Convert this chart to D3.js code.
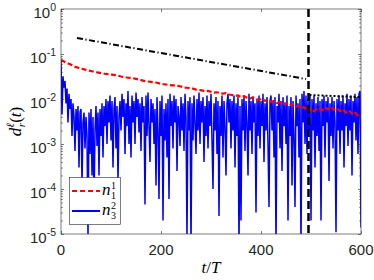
<!DOCTYPE html>
<html>
<head>
<meta charset="utf-8">
<script src="https://cdn.jsdelivr.net/npm/d3@7"></script>
<style>
  body { margin: 0; background: #fff; }
  svg { display: block; }
</style>
</head>
<body>
<div id="chart"></div>
<script>
// t/T axis ticks and log y ticks
const xTicks = [0, 200, 400, 600];
const yExponents = [0, -1, -2, -3, -4, -5];

// n_1^1 (red dashed), sampled every 6 periods
const redStep = 6;
const redValues = [
    0.074, 0.068, 0.063, 0.059, 0.055, 0.051, 0.049, 0.047, 0.045, 0.043,
    0.042, 0.040, 0.039, 0.038, 0.037, 0.036, 0.0355, 0.0347, 0.034, 0.033,
    0.0316, 0.031, 0.030, 0.0295, 0.029, 0.028, 0.027, 0.026, 0.025, 0.0245,
    0.024, 0.0234, 0.023, 0.022, 0.0214, 0.021, 0.0204, 0.020, 0.020, 0.0195,
    0.019, 0.018, 0.0178, 0.0174, 0.017, 0.0162, 0.0158, 0.0155, 0.0148, 0.0151,
    0.0145, 0.0138, 0.0141, 0.0135, 0.0132, 0.0135, 0.0126, 0.0123, 0.0117, 0.012,
    0.011, 0.0115, 0.0107, 0.0102, 0.011, 0.010, 0.0095, 0.0102, 0.0091, 0.0095,
    0.0087, 0.0091, 0.0081, 0.0085, 0.0078, 0.0081, 0.0072, 0.0076, 0.0066, 0.0071,
    0.0062, 0.0066, 0.0055, 0.006, 0.0051, 0.0058, 0.0063, 0.0056, 0.0065, 0.0059,
    0.0066, 0.0058, 0.0062, 0.0054, 0.0059, 0.005, 0.0055, 0.0047, 0.0051, 0.0042,
    0.0038
];

// n_3^2 (blue solid), sampled every 2 periods
const blueStep = 2;
const blueValues = [
    7e-2, 4.5e-3, 3.2e-2, 1.8e-2, 2.5e-2, 8e-3, 1.7e-2, 3e-3, 1.3e-2, 6e-3,
    1e-2, 1.5e-3, 8e-3, 4e-3, 7e-4, 6e-3, 2e-3, 7e-3, 3e-4, 5e-3,
    6e-3, 1.2e-4, 3e-3, 5e-3, 8e-4, 4e-3, 1.5e-3, 8e-6, 5e-3, 6e-4,
    6e-3, 2e-4, 4e-3, 5e-5, 2e-3, 7e-3, 9e-4, 5e-3, 2e-4, 6e-3,
    1.5e-3, 8e-3, 5e-4, 7e-3, 2.5e-3, 1e-2, 1e-3, 9e-3, 3e-3, 1.2e-2,
    1.2e-3, 9e-3, 3e-4, 6e-3, 1.1e-2, 8e-4, 7e-3, 1.5e-4, 4e-3, 9e-3,
    2e-3, 1.3e-2, 4e-3, 1e-2, 6e-4, 8e-3, 2.5e-3, 1.5e-2, 1e-3, 7e-3,
    5e-4, 1.2e-2, 3e-3, 9e-3, 1e-3, 1.4e-2, 4e-3, 1e-2, 1.8e-3, 8e-3,
    7e-4, 1.1e-2, 3e-3, 7e-3, 4.5e-5, 1.2e-2, 1.5e-3, 1.4e-2, 2.5e-3, 4e-4,
    1e-2, 3e-3, 8e-3, 1e-3, 6e-3, 1.2e-4, 1.1e-2, 2e-3, 6e-5, 9e-3,
    1.5e-3, 1.2e-2, 2e-5, 6e-3, 1.2e-3, 8e-3, 5e-4, 1e-2, 6e-5, 1.3e-2,
    2.5e-3, 9e-3, 8e-4, 1.2e-2, 3e-3, 1e-2, 2.5e-4, 7e-3, 4e-3, 9e-4,
    1.1e-2, 2e-3, 8e-3, 7e-4, 1.3e-2, 4e-3, 8e-6, 9e-3, 2e-3, 1.1e-2,
    5e-6, 8e-3, 1.2e-3, 1.2e-2, 3e-3, 6e-4, 1e-2, 2e-3, 1.4e-2, 1e-3,
    9e-3, 3e-3, 1.1e-2, 4e-4, 7e-3, 1.5e-3, 1.2e-2, 8e-4, 9e-3, 2.5e-3,
    1.3e-2, 1.2e-3, 1e-4, 8e-3, 2e-3, 1.1e-2, 6e-4, 9e-3, 2.5e-5, 7e-3,
    1.5e-3, 1.2e-2, 5e-4, 9e-3, 2.5e-3, 2e-4, 8e-3, 1.3e-2, 3e-3, 1e-2,
    8e-4, 9e-3, 2e-3, 1.2e-2, 3e-4, 8e-3, 1.5e-3, 1.1e-2, 5e-6, 7e-3,
    2e-5, 1e-2, 2e-3, 1.2e-2, 7e-4, 9e-3, 3e-3, 2e-4, 1.3e-2, 2e-3,
    9e-3, 6e-4, 1.1e-2, 3e-3, 8e-3, 3e-5, 1e-2, 1.5e-3, 1.2e-2, 8e-4,
    9e-3, 2.5e-3, 1.3e-2, 4e-4, 8e-3, 2e-3, 1.1e-2, 1e-3, 4e-5, 9e-3,
    1.2e-2, 2e-3, 9e-3, 5e-4, 1.1e-2, 5e-6, 7e-3, 3e-3, 1.3e-2, 8e-4,
    9e-3, 2.5e-4, 1.1e-2, 2.5e-3, 8e-3, 1e-3, 1.2e-2, 2e-5, 7e-3, 1.5e-3,
    1.1e-2, 1.2e-4, 9e-3, 1.5e-3, 4e-5, 1.2e-2, 2.5e-3, 8e-3, 5e-4, 1e-2,
    5e-6, 1.3e-2, 3e-3, 1.5e-2, 1e-3, 1.2e-2, 6e-4, 1e-2, 2e-3, 1.3e-2,
    2e-5, 1e-2, 2e-3, 1.2e-2, 3e-4, 8e-3, 1.5e-3, 1.1e-2, 7e-4, 9e-3,
    2e-5, 1e-2, 2.5e-3, 1.2e-2, 5e-4, 9e-3, 3e-3, 1.1e-2, 1.5e-4, 8e-3,
    1.5e-3, 1.1e-2, 8e-4, 9e-3, 3e-3, 1.1e-5, 1e-2, 2e-3, 1.2e-2, 6e-4,
    9e-3, 2e-3, 1.2e-2, 3e-4, 8e-3, 2.5e-3, 1.3e-2, 9e-4, 1e-2, 2e-3,
    1.2e-2, 2e-4, 9e-3, 3e-3, 1.3e-2, 1.2e-3, 1.1e-2, 6e-4, 1.3e-2, 1.5e-2,
    1.4e-5
];

// black guide lines: [t, value]
const dashDotLine = [[32, 0.227], [490, 0.0278]];
const dottedLine = [[497, 0.0123], [598, 0.011]];
const verticalLineT = 495;

const width = 374, height = 280;
const margin = { top: 9, right: 13, bottom: 46, left: 61 };
const axisColor = "#262626";

const svg = d3.select("#chart").append("svg")
    .attr("width", width)
    .attr("height", height);

const x = d3.scaleLinear().domain([0, 600]).range([margin.left, width - margin.right]);
const y = d3.scaleLog().domain([1e-5, 1]).range([height - margin.bottom, margin.top]);

svg.append("clipPath").attr("id", "plotClip")
    .append("rect")
    .attr("x", margin.left).attr("y", margin.top)
    .attr("width", x.range()[1] - margin.left)
    .attr("height", y.range()[0] - margin.top);

const plot = svg.append("g").attr("clip-path", "url(#plotClip)");

const line = d3.line().x(d => x(d[0])).y(d => y(d[1]));

const blueData = blueValues.map((v, i) => [i * blueStep, v]);
const redData = redValues.map((v, i) => [i * redStep, v]);

plot.append("path")
    .datum(blueData)
    .attr("d", line)
    .attr("fill", "none")
    .attr("stroke", "#0000ff")
    .attr("stroke-width", 1.5);

plot.append("path")
    .datum(redData)
    .attr("d", line)
    .attr("fill", "none")
    .attr("stroke", "#ff0000")
    .attr("stroke-width", 2.2)
    .attr("stroke-dasharray", "5,2.5");

plot.append("path")
    .datum(dashDotLine)
    .attr("d", line)
    .attr("fill", "none")
    .attr("stroke", "#000")
    .attr("stroke-width", 2)
    .attr("stroke-dasharray", "6,2.5,1.2,2.5");

plot.append("path")
    .datum(dottedLine)
    .attr("d", line)
    .attr("fill", "none")
    .attr("stroke", "#000")
    .attr("stroke-width", 2)
    .attr("stroke-dasharray", "2,2");

plot.append("line")
    .attr("x1", x(verticalLineT)).attr("x2", x(verticalLineT))
    .attr("y1", y(1)).attr("y2", y(1e-5))
    .attr("stroke", "#000")
    .attr("stroke-width", 2.5)
    .attr("stroke-dasharray", "8,4");

// axes
const yMajors = yExponents.map(e => Math.pow(10, e));
const yMinors = [];
yExponents.slice(1).forEach(e => {
    for (let k = 2; k <= 9; k++) yMinors.push(k * Math.pow(10, e));
});

function styleAxis(g) {
    g.select(".domain").remove();
    g.selectAll(".tick line").attr("stroke", axisColor).attr("stroke-width", 0.6);
}

const x0 = margin.left, x1 = x.range()[1];
const y0 = y.range()[0], y1 = margin.top;

svg.append("g").attr("transform", `translate(0,${y0})`)
    .call(d3.axisBottom(x).tickValues(xTicks).tickSize(-3).tickFormat(""))
    .call(styleAxis);
svg.append("g").attr("transform", `translate(0,${y1})`)
    .call(d3.axisTop(x).tickValues(xTicks).tickSize(-3).tickFormat(""))
    .call(styleAxis);

[[d3.axisLeft, x0], [d3.axisRight, x1]].forEach(([ax, pos]) => {
    svg.append("g").attr("transform", `translate(${pos},0)`)
        .call(ax(y).tickValues(yMajors).tickSize(-3).tickFormat(""))
        .call(styleAxis);
    svg.append("g").attr("transform", `translate(${pos},0)`)
        .call(ax(y).tickValues(yMinors).tickSize(-1.8).tickFormat(""))
        .call(styleAxis);
});

svg.append("rect")
    .attr("x", x0).attr("y", y1)
    .attr("width", x1 - x0).attr("height", y0 - y1)
    .attr("fill", "none")
    .attr("stroke", axisColor)
    .attr("stroke-width", 0.6);

// tick labels
const labelFont = "'Liberation Sans', Arial, sans-serif";

svg.selectAll(".xlabel")
    .data(xTicks)
    .enter()
    .append("text")
    .attr("x", d => x(d))
    .attr("y", y0 + 21)
    .attr("text-anchor", "middle")
    .attr("font-family", labelFont)
    .attr("font-size", 15)
    .attr("fill", axisColor)
    .text(d => d);

yExponents.forEach(e => {
    const t = svg.append("text")
        .attr("x", x0 - 5)
        .attr("y", y(Math.pow(10, e)) + 9)
        .attr("text-anchor", "end")
        .attr("font-family", labelFont)
        .attr("font-size", 15)
        .attr("fill", axisColor);
    t.append("tspan").text("10");
    t.append("tspan")
        .attr("dy", -7)
        .attr("font-size", 10.5)
        .text(e === 0 ? "0" : "-" + (-e));
});

// axis titles
const mathFont = "'Liberation Serif', 'DejaVu Serif', serif";

const xTitle = svg.append("text")
    .attr("x", (x0 + x1) / 2)
    .attr("y", 273)
    .attr("text-anchor", "middle")
    .attr("font-family", mathFont)
    .attr("font-style", "italic")
    .attr("font-size", 17)
    .attr("fill", "#000");
xTitle.append("tspan").text("t");
xTitle.append("tspan").attr("font-style", "normal").text("/");
xTitle.append("tspan").text("T");

const yTitle = svg.append("text")
    .attr("transform", `translate(21,${(y0 + y1) / 2}) rotate(-90)`)
    .attr("text-anchor", "middle")
    .attr("font-family", mathFont)
    .attr("font-style", "italic")
    .attr("font-size", 17)
    .attr("fill", "#000");
yTitle.append("tspan").text("d");
yTitle.append("tspan").attr("font-size", 11).attr("dy", -7).text("ℓ");
yTitle.append("tspan").attr("font-size", 11).attr("dx", -4).attr("dy", 11).text("r");
yTitle.append("tspan").attr("font-style", "normal").attr("dy", -4).text("(");
yTitle.append("tspan").text("t");
yTitle.append("tspan").attr("font-style", "normal").text(")");

// legend
const legendItems = [
    { color: "#ff0000", dash: "5,3", sup: "1", sub: "1" },
    { color: "#0000ff", dash: null, sup: "2", sub: "3" }
];

const legend = svg.append("g");
legend.append("rect")
    .attr("x", 69.5).attr("y", 177.5)
    .attr("width", 51).attr("height", 47)
    .attr("fill", "#fff")
    .attr("stroke", axisColor)
    .attr("stroke-width", 0.6);

legendItems.forEach((item, i) => {
    const cy = 191 + i * 20;
    legend.append("line")
        .attr("x1", 72).attr("x2", 100)
        .attr("y1", cy).attr("y2", cy)
        .attr("stroke", item.color)
        .attr("stroke-width", 2)
        .attr("stroke-dasharray", item.dash);
    legend.append("text")
        .attr("x", 102).attr("y", cy + 4)
        .attr("font-family", mathFont)
        .attr("font-style", "italic")
        .attr("font-size", 17)
        .text("n");
    legend.append("text")
        .attr("x", 111).attr("y", cy - 2)
        .attr("font-family", mathFont)
        .attr("font-size", 10)
        .text(item.sup);
    legend.append("text")
        .attr("x", 111).attr("y", cy + 8)
        .attr("font-family", mathFont)
        .attr("font-size", 10)
        .text(item.sub);
});
</script>
</body>
</html>
